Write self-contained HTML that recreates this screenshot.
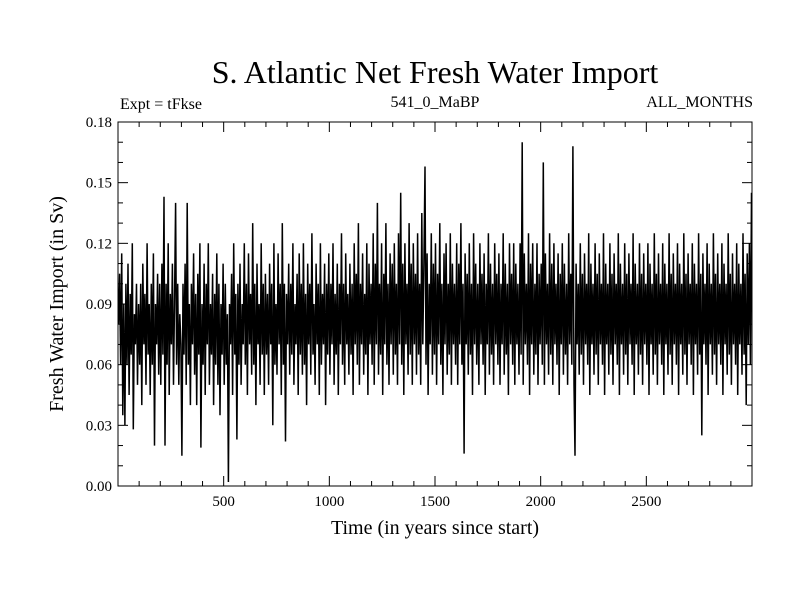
<!DOCTYPE html>
<html><head><meta charset="utf-8"><style>
body{margin:0;background:#fff;}
svg text{font-family:"Liberation Serif",serif;fill:#000;}
</style></head><body>
<svg id="chart" width="800" height="600">
<rect width="800" height="600" fill="#fff"/>
<text x="435" y="83" font-size="32" text-anchor="middle">S. Atlantic Net Fresh Water Import</text>
<text x="120" y="109" font-size="16">Expt = tFkse</text>
<text x="435" y="107" font-size="16" text-anchor="middle">541_0_MaBP</text>
<text x="753" y="107" font-size="16" text-anchor="end">ALL_MONTHS</text>
<text x="435" y="534" font-size="20" text-anchor="middle">Time (in years since start)</text>
<text transform="translate(63,304) rotate(-90)" font-size="20" text-anchor="middle">Fresh Water Import (in Sv)</text>
<g id="axes"></g>
<path id="series" fill="none" stroke="#000" stroke-width="1.5" stroke-linejoin="miter"/>
<rect x="118" y="122" width="634" height="364" fill="none" stroke="#000" stroke-width="1"/>
</svg>
<script>
const xTicks=[500,1000,1500,2000,2500];
const yTicks=[0,0.03,0.06,0.09,0.12,0.15,0.18];
const yTickLabels=["0.00","0.03","0.06","0.09","0.12","0.15","0.18"];
const xStart=0,xEnd=3000,yMin=0,yMax=0.18;
const values=[
0.08,0.105,0.06,0.115,0.035,0.09,0.03,0.1,0.06,0.11,0.045,0.095,0.065,0.12,0.028,0.085,0.07,0.1,0.05,0.09,
0.06,0.1,0.04,0.11,0.07,0.095,0.05,0.12,0.065,0.09,0.045,0.1,0.06,0.115,0.02,0.09,0.07,0.105,0.055,0.1,
0.05,0.11,0.065,0.143,0.02,0.1,0.06,0.12,0.045,0.095,0.07,0.11,0.05,0.09,0.14,0.06,0.1,0.05,0.085,0.07,
0.015,0.1,0.065,0.11,0.05,0.14,0.06,0.09,0.04,0.1,0.07,0.115,0.055,0.095,0.04,0.105,0.065,0.12,0.019,0.09,
0.06,0.11,0.045,0.1,0.07,0.12,0.05,0.09,0.065,0.105,0.04,0.095,0.06,0.115,0.05,0.1,0.035,0.09,0.065,0.11,
0.05,0.1,0.06,0.085,0.002,0.09,0.07,0.105,0.045,0.12,0.065,0.095,0.023,0.1,0.06,0.11,0.05,0.09,0.07,0.12,
0.06,0.1,0.045,0.115,0.07,0.095,0.055,0.13,0.06,0.1,0.04,0.11,0.07,0.09,0.05,0.12,0.065,0.1,0.045,0.105,
0.065,0.095,0.05,0.11,0.07,0.1,0.03,0.12,0.06,0.09,0.055,0.115,0.07,0.1,0.045,0.13,0.06,0.1,0.022,0.095,
0.07,0.11,0.055,0.1,0.065,0.12,0.05,0.09,0.07,0.105,0.045,0.115,0.065,0.1,0.055,0.12,0.06,0.095,0.04,0.11,
0.07,0.1,0.055,0.125,0.065,0.09,0.05,0.11,0.07,0.1,0.045,0.12,0.06,0.095,0.07,0.11,0.04,0.1,0.065,0.115,
0.055,0.1,0.07,0.12,0.05,0.095,0.065,0.11,0.045,0.1,0.07,0.125,0.06,0.1,0.05,0.115,0.07,0.095,0.055,0.11,
0.065,0.1,0.045,0.12,0.07,0.105,0.06,0.13,0.05,0.1,0.07,0.115,0.055,0.095,0.065,0.12,0.045,0.11,0.07,0.1,
0.06,0.125,0.05,0.11,0.07,0.14,0.055,0.1,0.065,0.12,0.045,0.105,0.07,0.13,0.06,0.1,0.05,0.115,0.07,0.11,
0.055,0.12,0.065,0.1,0.05,0.125,0.07,0.145,0.06,0.11,0.045,0.12,0.07,0.1,0.055,0.13,0.065,0.11,0.05,0.12,
0.07,0.105,0.055,0.125,0.065,0.1,0.05,0.135,0.07,0.11,0.158,0.06,0.115,0.045,0.1,0.07,0.125,0.055,0.11,0.065,
0.12,0.05,0.105,0.07,0.13,0.06,0.1,0.045,0.115,0.07,0.12,0.055,0.1,0.065,0.125,0.05,0.11,0.07,0.1,0.06,
0.12,0.05,0.11,0.07,0.13,0.06,0.1,0.016,0.115,0.07,0.105,0.055,0.12,0.065,0.1,0.045,0.125,0.07,0.11,0.06,
0.1,0.05,0.12,0.07,0.105,0.06,0.115,0.045,0.1,0.07,0.125,0.055,0.11,0.065,0.1,0.05,0.12,0.07,0.105,0.06,
0.115,0.05,0.1,0.07,0.125,0.055,0.11,0.065,0.1,0.045,0.12,0.07,0.105,0.06,0.12,0.05,0.11,0.07,0.1,0.055,
0.12,0.065,0.17,0.05,0.115,0.07,0.1,0.06,0.125,0.045,0.11,0.07,0.12,0.055,0.1,0.065,0.12,0.05,0.105,0.07,
0.11,0.06,0.16,0.05,0.115,0.07,0.1,0.055,0.125,0.065,0.11,0.05,0.12,0.07,0.1,0.06,0.115,0.045,0.105,0.07,
0.12,0.055,0.11,0.065,0.1,0.05,0.125,0.07,0.105,0.06,0.168,0.05,0.015,0.11,0.07,0.1,0.055,0.12,0.065,0.105,
0.05,0.115,0.07,0.1,0.06,0.125,0.045,0.11,0.07,0.1,0.055,0.12,0.065,0.105,0.05,0.115,0.07,0.1,0.06,0.125,
0.045,0.11,0.07,0.1,0.055,0.12,0.065,0.105,0.05,0.115,0.07,0.1,0.06,0.125,0.045,0.11,0.07,0.1,0.055,0.12,
0.065,0.105,0.05,0.115,0.07,0.1,0.06,0.125,0.045,0.11,0.07,0.1,0.055,0.12,0.065,0.105,0.05,0.115,0.07,0.1,
0.06,0.12,0.045,0.11,0.07,0.1,0.055,0.125,0.065,0.105,0.05,0.115,0.07,0.1,0.06,0.12,0.045,0.11,0.07,0.1,
0.055,0.125,0.065,0.105,0.05,0.115,0.07,0.1,0.06,0.12,0.045,0.11,0.07,0.1,0.055,0.125,0.065,0.105,0.05,0.115,
0.07,0.1,0.06,0.12,0.045,0.11,0.07,0.1,0.055,0.125,0.065,0.105,0.025,0.115,0.07,0.1,0.06,0.12,0.045,0.11,
0.07,0.1,0.055,0.125,0.065,0.105,0.05,0.115,0.07,0.1,0.06,0.12,0.045,0.11,0.07,0.1,0.055,0.125,0.065,0.105,
0.05,0.115,0.07,0.1,0.06,0.12,0.045,0.11,0.07,0.1,0.055,0.125,0.065,0.105,0.04,0.115,0.07,0.12,0.06,0.145];
const L=118,R=752,T=122,B=486;
const sx=v=>L+(v-xStart)/(xEnd-xStart)*(R-L);
const sy=v=>B-(v-yMin)/(yMax-yMin)*(B-T);
const ns="http://www.w3.org/2000/svg";
const axes=document.getElementById('axes');
function line(x1,y1,x2,y2,name){const l=document.createElementNS(ns,'line');
l.setAttribute('x1',x1);l.setAttribute('y1',y1);l.setAttribute('x2',x2);l.setAttribute('y2',y2);
l.setAttribute('stroke','#000');


axes.appendChild(l);}
function txt(x,y,s,anchor,name){const t=document.createElementNS(ns,'text');
t.setAttribute('x',x);t.setAttribute('y',y);t.setAttribute('font-size','15');t.setAttribute('text-anchor',anchor);t.textContent=s;


axes.appendChild(t);}
for(let v=100;v<3000;v+=100){const x=sx(v);const major=v%500===0;const len=major?10:5;
line(x,B,x,B-len,'x-tick');line(x,T,x,T+len,'x-tick-top');}
xTicks.forEach(v=>txt(sx(v),B+20,String(v),'middle','x-tick-label'));
for(let i=0;i<=18;i++){const v=i*0.01;const y=sy(v);const major=i%3===0;const len=major?10:5;
line(L,y,L+len,y,'y-tick');line(R,y,R-len,y,'y-tick-right');}
yTicks.forEach((v,i)=>txt(L-6,sy(v)+5,yTickLabels[i],'end','y-tick-label'));
let d='';const n=values.length;
values.forEach((v,i)=>{const x=sx(xStart+(i+0.5)*(xEnd-xStart)/n);d+=(i?'L':'M')+x.toFixed(1)+','+sy(v).toFixed(1);});
document.getElementById('series').setAttribute('d',d);
</script>
</body></html>
